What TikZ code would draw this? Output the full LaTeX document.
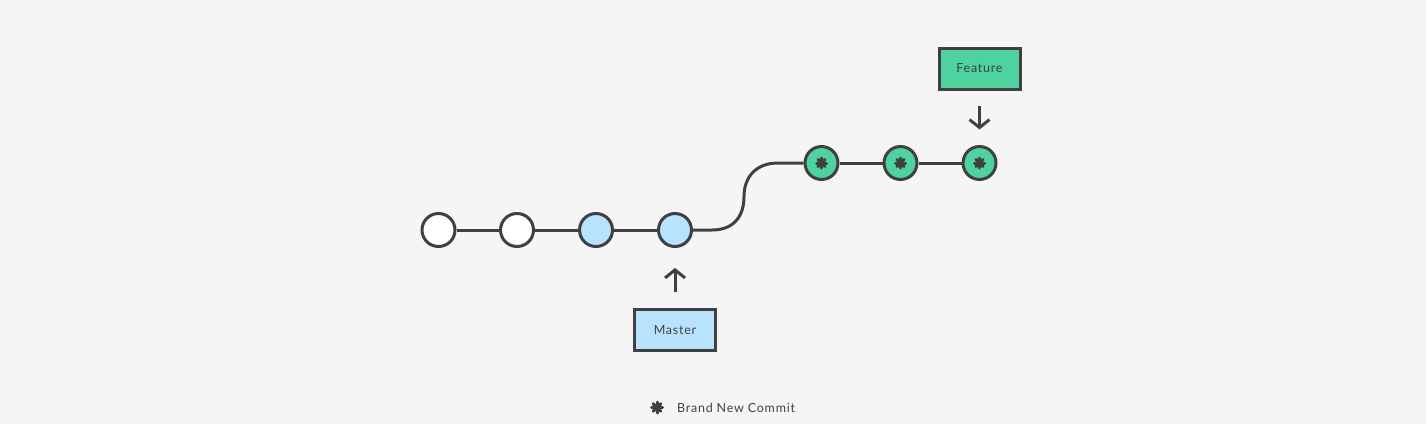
\documentclass[tikz,border=0pt]{standalone}
\usepackage{fontspec}
\setmainfont{Lato}[LetterSpace=6]
\usetikzlibrary{arrows.meta}
\definecolor{bg}{HTML}{F5F5F5}
\definecolor{ink}{HTML}{404040}
\definecolor{blueC}{HTML}{B8E3FF}
\definecolor{greenC}{HTML}{4DD2A0}
\tikzset{
  commit/.style={circle, draw=ink, line width=3pt, minimum size=33pt, inner sep=0pt},
  oldc/.style={commit, fill=white},
  bluec/.style={commit, fill=blueC},
  greenc/.style={commit, fill=greenC},
  branch/.style={rectangle, draw=ink, line width=3pt, minimum width=81pt, minimum height=41pt, inner sep=0pt, font=\fontsize{12.5}{13}\selectfont, text=ink},
  link/.style={draw=ink, line width=3pt},
  ptr/.style={draw=ink, line width=3pt, -{Straight Barb[length=8pt, width=20pt, line width=3pt]}},
}
\newcommand{\starmark}[2]{%
  \foreach \a in {0,45,90,135} {
    \draw[ink, line width=3pt, line cap=round] (#1) ++(\a:#2) -- ++(\a+180:2*#2);
  }
  \fill[ink] (#1) circle (#2*0.75);
}
\begin{document}
\begin{tikzpicture}[x=1pt, y=-1pt]
\fill[bg] (0,0) rectangle (1426,424);
\useasboundingbox (0,0) rectangle (1426,424);
% commits
\node[oldc] (c1) at (438.5,230) {};
\node[oldc] (c2) at (517,230) {};
\node[bluec] (c3) at (596,230) {};
\node[bluec] (c4) at (675,230) {};
\node[greenc] (g1) at (821.5,163) {};
\node[greenc] (g2) at (900.5,163) {};
\node[greenc] (g3) at (979.5,163) {};
% links
\draw[link] (c1) -- (c2);
\draw[link] (c2) -- (c3);
\draw[link] (c3) -- (c4);
\draw[link] (c4.east) -- (712,230) .. controls (734,230) and (744,216) .. (744,196.5) .. controls (744,177) and (756,163) .. (778,163) -- (g1.west);
\draw[link] (g1) -- (g2);
\draw[link] (g2) -- (g3);
% stars
\starmark{g1}{5pt}
\starmark{g2}{5pt}
\starmark{g3}{5pt}
% branches
\node[branch, fill=blueC] (master) at (675,330) {Master};
\node[branch, fill=greenC] (feature) at (979.5,68.5) {Feature};
\coordinate (ma1) at (675,292);
\coordinate (ma2) at (675,268);
\coordinate (fa1) at (979.5,106);
\coordinate (fa2) at (979.5,129.5);
\draw[ptr] (ma1) -- (ma2);
\draw[ptr] (fa1) -- (fa2);
% legend
\coordinate (lstar) at (657,407.5);
\starmark{lstar}{5.5pt}
\node[anchor=west, inner sep=0pt, text=ink, font=\fontsize{12.5}{13}\selectfont] (legend) at (677,407.5) {Brand New Commit};
\end{tikzpicture}
\end{document}
